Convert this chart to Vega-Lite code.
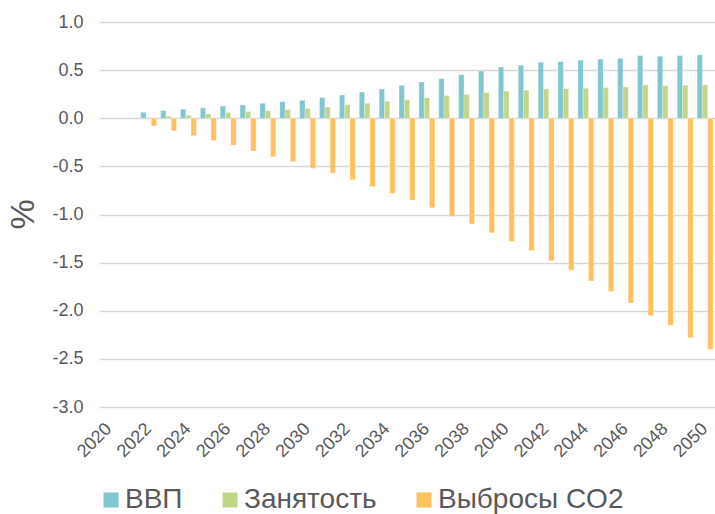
{
  "$schema": "https://vega.github.io/schema/vega-lite/v6.json",
  "autosize": {"type": "none"},
  "padding": {"left": 99, "top": 22, "right": 0, "bottom": 107},
  "width": 616,
  "height": 385,
  "background": "white",
  "config": {
    "view": {"stroke": null},
    "font": "Liberation Sans",
    "axis": {"labelFont": "Liberation Sans", "titleFont": "Liberation Sans"},
    "legend": {"labelFont": "Liberation Sans", "padding": 0}
  },
  "data": {
    "values": [
      {"year": 2022, "series": "ВВП", "value": 0.062}, {"year": 2022, "series": "Занятость", "value": 0.007}, {"year": 2022, "series": "Выбросы CO2", "value": -0.08},
      {"year": 2023, "series": "ВВП", "value": 0.079}, {"year": 2023, "series": "Занятость", "value": 0.02}, {"year": 2023, "series": "Выбросы CO2", "value": -0.13},
      {"year": 2024, "series": "ВВП", "value": 0.093}, {"year": 2024, "series": "Занятость", "value": 0.031}, {"year": 2024, "series": "Выбросы CO2", "value": -0.18},
      {"year": 2025, "series": "ВВП", "value": 0.107}, {"year": 2025, "series": "Занятость", "value": 0.045}, {"year": 2025, "series": "Выбросы CO2", "value": -0.23},
      {"year": 2026, "series": "ВВП", "value": 0.128}, {"year": 2026, "series": "Занятость", "value": 0.059}, {"year": 2026, "series": "Выбросы CO2", "value": -0.28},
      {"year": 2027, "series": "ВВП", "value": 0.138}, {"year": 2027, "series": "Занятость", "value": 0.069}, {"year": 2027, "series": "Выбросы CO2", "value": -0.34},
      {"year": 2028, "series": "ВВП", "value": 0.155}, {"year": 2028, "series": "Занятость", "value": 0.079}, {"year": 2028, "series": "Выбросы CO2", "value": -0.40},
      {"year": 2029, "series": "ВВП", "value": 0.172}, {"year": 2029, "series": "Занятость", "value": 0.09}, {"year": 2029, "series": "Выбросы CO2", "value": -0.45},
      {"year": 2030, "series": "ВВП", "value": 0.186}, {"year": 2030, "series": "Занятость", "value": 0.10}, {"year": 2030, "series": "Выбросы CO2", "value": -0.52},
      {"year": 2031, "series": "ВВП", "value": 0.214}, {"year": 2031, "series": "Занятость", "value": 0.117}, {"year": 2031, "series": "Выбросы CO2", "value": -0.57},
      {"year": 2032, "series": "ВВП", "value": 0.241}, {"year": 2032, "series": "Занятость", "value": 0.141}, {"year": 2032, "series": "Выбросы CO2", "value": -0.64},
      {"year": 2033, "series": "ВВП", "value": 0.272}, {"year": 2033, "series": "Занятость", "value": 0.155}, {"year": 2033, "series": "Выбросы CO2", "value": -0.71},
      {"year": 2034, "series": "ВВП", "value": 0.303}, {"year": 2034, "series": "Занятость", "value": 0.176}, {"year": 2034, "series": "Выбросы CO2", "value": -0.78},
      {"year": 2035, "series": "ВВП", "value": 0.342}, {"year": 2035, "series": "Занятость", "value": 0.192}, {"year": 2035, "series": "Выбросы CO2", "value": -0.85},
      {"year": 2036, "series": "ВВП", "value": 0.377}, {"year": 2036, "series": "Занятость", "value": 0.212}, {"year": 2036, "series": "Выбросы CO2", "value": -0.93},
      {"year": 2037, "series": "ВВП", "value": 0.411}, {"year": 2037, "series": "Занятость", "value": 0.236}, {"year": 2037, "series": "Выбросы CO2", "value": -1.02},
      {"year": 2038, "series": "ВВП", "value": 0.452}, {"year": 2038, "series": "Занятость", "value": 0.247}, {"year": 2038, "series": "Выбросы CO2", "value": -1.10},
      {"year": 2039, "series": "ВВП", "value": 0.49}, {"year": 2039, "series": "Занятость", "value": 0.267}, {"year": 2039, "series": "Выбросы CO2", "value": -1.19},
      {"year": 2040, "series": "ВВП", "value": 0.531}, {"year": 2040, "series": "Занятость", "value": 0.281}, {"year": 2040, "series": "Выбросы CO2", "value": -1.28},
      {"year": 2041, "series": "ВВП", "value": 0.551}, {"year": 2041, "series": "Занятость", "value": 0.291}, {"year": 2041, "series": "Выбросы CO2", "value": -1.375},
      {"year": 2042, "series": "ВВП", "value": 0.582}, {"year": 2042, "series": "Занятость", "value": 0.305}, {"year": 2042, "series": "Выбросы CO2", "value": -1.48},
      {"year": 2043, "series": "ВВП", "value": 0.589}, {"year": 2043, "series": "Занятость", "value": 0.308}, {"year": 2043, "series": "Выбросы CO2", "value": -1.58},
      {"year": 2044, "series": "ВВП", "value": 0.603}, {"year": 2044, "series": "Занятость", "value": 0.312}, {"year": 2044, "series": "Выбросы CO2", "value": -1.69},
      {"year": 2045, "series": "ВВП", "value": 0.613}, {"year": 2045, "series": "Занятость", "value": 0.318}, {"year": 2045, "series": "Выбросы CO2", "value": -1.80},
      {"year": 2046, "series": "ВВП", "value": 0.623}, {"year": 2046, "series": "Занятость", "value": 0.325}, {"year": 2046, "series": "Выбросы CO2", "value": -1.92},
      {"year": 2047, "series": "ВВП", "value": 0.651}, {"year": 2047, "series": "Занятость", "value": 0.346}, {"year": 2047, "series": "Выбросы CO2", "value": -2.05},
      {"year": 2048, "series": "ВВП", "value": 0.644}, {"year": 2048, "series": "Занятость", "value": 0.339}, {"year": 2048, "series": "Выбросы CO2", "value": -2.15},
      {"year": 2049, "series": "ВВП", "value": 0.651}, {"year": 2049, "series": "Занятость", "value": 0.342}, {"year": 2049, "series": "Выбросы CO2", "value": -2.28},
      {"year": 2050, "series": "ВВП", "value": 0.658}, {"year": 2050, "series": "Занятость", "value": 0.346}, {"year": 2050, "series": "Выбросы CO2", "value": -2.40}
    ]
  },
  "mark": {"type": "bar", "stroke": "#ffffff", "strokeOpacity": 0.5, "strokeWidth": 0.5},
  "encoding": {
    "x": {
      "field": "year",
      "type": "ordinal",
      "scale": {
        "domain": [2020,2021,2022,2023,2024,2025,2026,2027,2028,2029,2030,2031,2032,2033,2034,2035,2036,2037,2038,2039,2040,2041,2042,2043,2044,2045,2046,2047,2048,2049,2050],
        "paddingInner": 0.2,
        "paddingOuter": 0.1
      },
      "axis": {
        "title": null,
        "values": [2020,2022,2024,2026,2028,2030,2032,2034,2036,2038,2040,2042,2044,2046,2048,2050],
        "labelAngle": -45,
        "labelAlign": "right",
        "labelBaseline": "middle",
        "labelPadding": 19,
        "labelFontSize": 18,
        "labelColor": "#595959",
        "ticks": false,
        "tickSize": 0,
        "domain": false,
        "grid": false
      }
    },
    "xOffset": {
      "field": "series",
      "type": "nominal",
      "sort": ["ВВП", "Занятость", "Выбросы CO2"],
      "scale": {"paddingInner": 0, "paddingOuter": 0}
    },
    "y": {
      "field": "value",
      "type": "quantitative",
      "scale": {"domain": [-3, 1], "nice": false, "zero": false},
      "axis": {
        "title": "%",
        "titleFontSize": 34,
        "titleFontWeight": "normal",
        "titleColor": "#595959",
        "titleAngle": -90,
        "titleAlign": "center",
        "titleBaseline": "middle",
        "titleX": -76,
        "titleY": 192,
        "values": [-3, -2.5, -2, -1.5, -1, -0.5, 0, 0.5, 1],
        "format": ".1f",
        "labelExpr": "replace(datum.label, '−', '-')",
        "labelFontSize": 18,
        "labelColor": "#595959",
        "labelPadding": 16,
        "ticks": false,
        "tickSize": 0,
        "domain": false,
        "grid": true,
        "gridColor": "#d9d9d9",
        "gridWidth": 1.5
      }
    },
    "color": {
      "field": "series",
      "type": "nominal",
      "sort": ["ВВП", "Занятость", "Выбросы CO2"],
      "scale": {"domain": ["ВВП", "Занятость", "Выбросы CO2"], "range": ["#82c6d0", "#c2d68a", "#ffc05f"]},
      "legend": {
        "title": null,
        "orient": "none",
        "direction": "horizontal",
        "legendX": -2,
        "legendY": 464,
        "symbolType": "square",
        "symbolSize": 225,
        "symbolStrokeWidth": 0,
        "symbolOpacity": 1,
        "labelFontSize": 28,
        "labelColor": "#595959",
        "labelOffset": 0,
        "labelLimit": 400,
        "columnPadding": 33
      }
    }
  }
}
